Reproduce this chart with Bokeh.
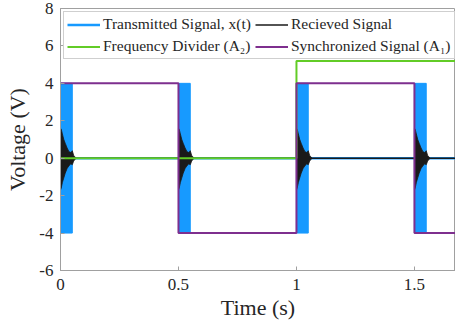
from bokeh.plotting import figure
from bokeh.models import Legend, LegendItem, FixedTicker, Range1d
from bokeh.embed import file_html
from bokeh.resources import INLINE

# ---- data ----
burst_starts = [0.0, 0.5, 1.0, 1.5]          # s, start of each transmitted burst
burst_duration = 0.05                         # s
tx_amplitude = 4.0                            # V

rx_offsets = [0.0, 0.003, 0.008, 0.014, 0.020, 0.028, 0.036, 0.044, 0.050, 0.056, 0.066]
rx_upper = [1.6, 1.55, 1.3, 1.0, 0.8, 0.55, 0.35, 0.3, 0.4, 0.15, 0.0]
rx_lower = [-1.7, -1.6, -1.3, -1.05, -0.8, -0.55, -0.4, -0.3, -0.35, -0.15, 0.0]

t_end = 1.674
sync_t = [0.0, 0.5, 1.0, 1.5, t_end]
sync_v = [4.0, -4.0, 4.0, -4.0, -4.0]
div_t = [0.0, 1.0, t_end]
div_v = [0.0, 5.2, 5.2]
zero_t = [0.0, t_end]
zero_v = [0.0, 0.0]

x_ticks = [0, 0.5, 1, 1.5]
x_tick_labels = ["0", "0.5", "1", "1.5"]
y_ticks = [-6, -4, -2, 0, 2, 4, 6, 8]
y_tick_labels = ["-6", "-4", "-2", "0", "2", "4", "6", "8"]

BLUE = "#179aff"
GREEN = "#62cc26"
PURPLE = "#7e2f8e"
BLACK = "#1a1a1a"
FONT = "Liberation Serif"

p = figure(width=455, height=330, output_backend="svg", toolbar_location=None,
           x_range=Range1d(0, t_end), y_range=Range1d(-6, 8),
           min_border_left=60, min_border_right=0, min_border_top=8, min_border_bottom=60)
p.grid.visible = False
p.outline_line_color = "#a0a0a0"
p.background_fill_color = "white"
p.border_fill_color = "white"

# transmitted signal bursts
p.quad(left=burst_starts, right=[s + burst_duration for s in burst_starts],
       bottom=[-tx_amplitude] * 4, top=[tx_amplitude] * 4,
       fill_color=BLUE, line_color=BLUE, line_width=1)
tx_line = p.line(zero_t, zero_v, line_color=BLUE, line_width=2.5)

# received signal
xs, ys = [], []
for s in burst_starts:
    xs.append([s + o for o in rx_offsets] + [s + o for o in reversed(rx_offsets)])
    ys.append(rx_upper + list(reversed(rx_lower)))
p.patches(xs, ys, fill_color=BLACK, line_color=BLACK, line_width=0.8)
rx_line = p.line(zero_t, zero_v, line_color=BLACK, line_width=1.6)

# frequency divider
div_line = p.step(div_t, div_v, mode="after", line_color=GREEN, line_width=2)
# synchronized signal
sync_line = p.step(sync_t, sync_v, mode="after", line_color=PURPLE, line_width=2)

for ax in (p.xaxis[0], p.yaxis[0]):
    ax.axis_line_color = "#a0a0a0"
    ax.major_tick_line_color = "#a0a0a0"
    ax.major_tick_in = 4
    ax.major_tick_out = 0
    ax.minor_tick_line_color = None
    ax.major_label_text_font = FONT
    ax.major_label_text_font_size = "17px"
    ax.major_label_text_color = "#262626"
    ax.axis_label_text_font = FONT
    ax.axis_label_text_font_size = "22px"
    ax.axis_label_text_font_style = "normal"
    ax.axis_label_text_color = "#262626"

p.xaxis.ticker = FixedTicker(ticks=x_ticks)
p.xaxis.major_label_overrides = dict(zip(x_ticks, x_tick_labels))
p.yaxis.ticker = FixedTicker(ticks=y_ticks)
p.yaxis.major_label_overrides = dict(zip(y_ticks, y_tick_labels))
p.xaxis.axis_label = "Time (s)"
p.yaxis.axis_label = "Voltage (V)"
p.xaxis.major_label_standoff = 8
p.xaxis.axis_label_standoff = 2
p.yaxis.major_label_standoff = 7
p.yaxis.axis_label_standoff = 6

legend = Legend(items=[
    LegendItem(label="Transmitted Signal, x(t)", renderers=[tx_line]),
    LegendItem(label="Frequency Divider (A\u2082)", renderers=[div_line]),
    LegendItem(label="Recieved Signal", renderers=[rx_line]),
    LegendItem(label="Synchronized Signal (A\u2081)", renderers=[sync_line]),
], location="top_left", ncols=2)
legend.label_text_font = FONT
legend.label_text_font_size = "15.5px"
legend.label_text_color = "#262626"
legend.glyph_width = 33
legend.glyph_height = 15
legend.label_height = 15
legend.label_standoff = 3
legend.spacing = 4
legend.padding = 3
legend.margin = 3
legend.border_line_color = "#a0a0a0"
legend.border_line_width = 1
legend.background_fill_alpha = 1
p.add_layout(legend)

open("out.html", "w").write(file_html(p, INLINE))
